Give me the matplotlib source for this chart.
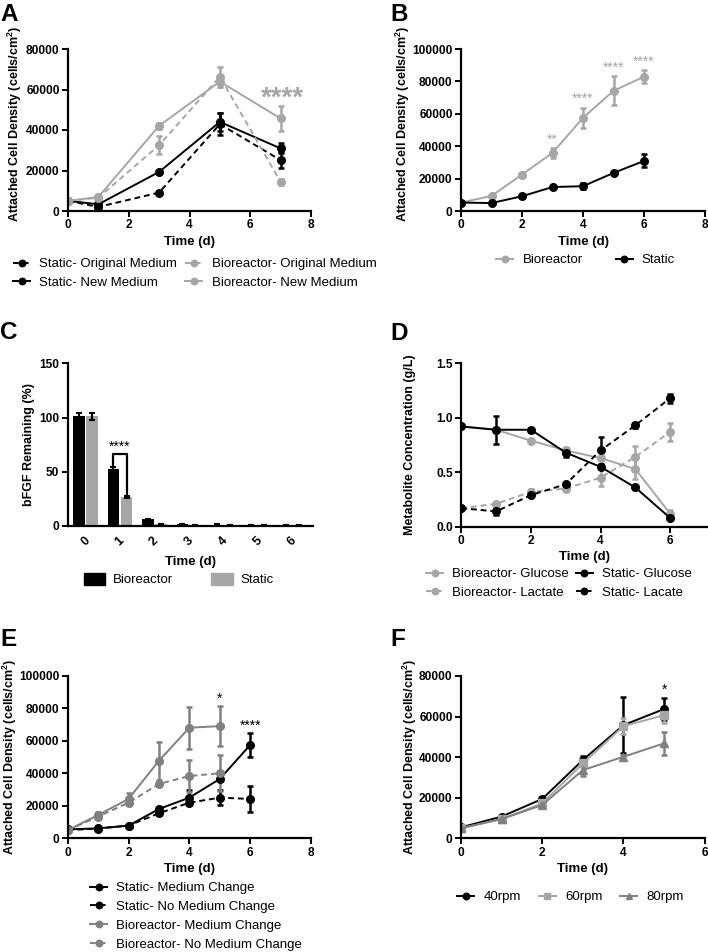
import matplotlib.pyplot as plt
import numpy as np
from matplotlib.patches import Patch

plt.rcParams['font.family'] = ['Liberation Sans', 'DejaVu Sans']
plt.rcParams['mathtext.fontset'] = 'custom'
plt.rcParams['mathtext.rm'] = 'Liberation Sans'
plt.rcParams['mathtext.bf'] = 'Liberation Sans:bold'

GRAY = '#a6a6a6'
DGRAY = '#808080'
YLAB = r'Attached Cell Density (cells/cm$^{\mathbf{2}}$)'

# ---- A: medium change, days 0,1,3,5,7
days_a = [0, 1, 3, 5, 7]
a_static_orig = [5000, 2000, 9100, 42900, 25100]
a_static_orig_err = [400, 400, 600, 5500, 4000]
a_static_new = [5000, 3300, 19300, 44000, 30900]
a_static_new_err = [400, 400, 600, 4500, 2500]
a_bio_orig = [5000, 6600, 32500, 66300, 14400]
a_bio_orig_err = [400, 400, 4500, 5000, 1500]
a_bio_new = [5000, 6900, 42100, 63900, 45700]
a_bio_new_err = [400, 400, 1500, 2500, 6000]

# ---- B: bioreactor vs static
days_b = [0, 1, 2, 3, 4, 5, 6]
b_bio = [5200, 9300, 22500, 35900, 57500, 74200, 82900]
b_bio_err = [400, 600, 800, 3000, 6200, 9000, 4000]
b_static = [5200, 4900, 9100, 14800, 15300, 23500, 30900]
b_static_err = [400, 400, 600, 800, 2000, 800, 4000]
b_stars = ['', '', '', '**', '****', '****', '****']

# ---- C: bFGF remaining
days_c = ['0', '1', '2', '3', '4', '5', '6']
c_bio = [101, 53, 6.5, 1.6, 1.3, 1.1, 1.0]
c_bio_err = [3, 1.5, 0.3, 0.2, 0.2, 0.2, 0.2]
c_static = [101, 27, 2.0, 1.0, 0.8, 0.6, 0.6]
c_static_err = [3, 1.0, 0.2, 0.2, 0.2, 0.2, 0.2]

# ---- D: metabolites
days_d = [0, 1, 2, 3, 4, 5, 6]
d_bio_glu = [0.92, 0.89, 0.79, 0.70, 0.63, 0.53, 0.12]
d_bio_glu_err = [0.01, 0.02, 0.01, 0.02, 0.09, 0.09, 0.03]
d_bio_lac = [0.17, 0.21, 0.32, 0.35, 0.45, 0.64, 0.87]
d_bio_lac_err = [0.01, 0.01, 0.03, 0.01, 0.08, 0.10, 0.08]
d_st_glu = [0.92, 0.89, 0.89, 0.68, 0.55, 0.36, 0.08]
d_st_glu_err = [0.01, 0.13, 0.01, 0.04, 0.01, 0.01, 0.01]
d_st_lac = [0.17, 0.14, 0.29, 0.39, 0.70, 0.93, 1.18]
d_st_lac_err = [0.01, 0.03, 0.01, 0.01, 0.12, 0.02, 0.04]

# ---- E: medium change over 6 days
days_e = [0, 1, 2, 3, 4, 5, 6]
e_st_mc = [5500, 6100, 7800, 18000, 25000, 36500, 57400]
e_st_mc_err = [400, 400, 500, 800, 4600, 800, 7400]
e_st_nmc = [5000, 6000, 7800, 15400, 21900, 25000, 24200]
e_st_nmc_err = [400, 400, 500, 800, 800, 4600, 7800]
days_e_bio = [0, 1, 2, 3, 4, 5]
e_bio_mc = [5000, 14300, 24200, 47700, 68000, 69000]
e_bio_mc_err = [400, 2000, 3500, 11600, 13000, 12300]
e_bio_nmc = [5000, 13300, 21900, 33400, 38300, 40000]
e_bio_nmc_err = [400, 1500, 1500, 1500, 9800, 11000]

# ---- F: agitation rate
days_f = [0, 1, 2, 3, 4, 5]
f_40 = [5400, 10700, 19400, 38600, 55800, 63700]
f_40_err = [400, 600, 800, 2000, 13800, 5500]
f_60 = [5000, 9500, 17200, 36900, 55300, 60700]
f_60_err = [400, 600, 800, 2000, 4000, 4000]
f_80 = [5000, 9500, 16400, 33600, 40200, 46800]
f_80_err = [400, 600, 800, 3000, 1000, 5500]

W, H = 708, 952
fig = plt.figure(figsize=(W / 100, H / 100), dpi=100)


def px_axes(left, top, right, bottom):
    return fig.add_axes([left / W, 1 - bottom / H, (right - left) / W, (bottom - top) / H])


def style(ax, xlim, xticks, ylim, yticks, ylabel, label_x, label_y=None, fmt_int=True):
    for s in ['top', 'right']:
        ax.spines[s].set_visible(False)
    for s in ['left', 'bottom']:
        ax.spines[s].set_linewidth(1.6)
    ax.set_xlim(xlim)
    ax.set_ylim(ylim)
    ax.set_xticks(xticks)
    ax.set_yticks(yticks)
    if fmt_int:
        ax.set_yticklabels([str(int(v)) for v in yticks])
    ax.tick_params(width=1.4, length=4, labelsize=8.6, pad=2)
    for lab in ax.get_xticklabels() + ax.get_yticklabels():
        lab.set_fontweight('bold')
    ax.set_xlabel('Time (d)', fontsize=9.5, fontweight='bold', labelpad=3)
    ax.set_ylabel(ylabel, fontsize=9, fontweight='bold')
    pos = ax.get_position()
    yc = (pos.y0 + pos.y1) / 2 if label_y is None else 1 - label_y / H
    ax.yaxis.set_label_coords(label_x / W, yc, transform=fig.transFigure)
    ax.yaxis.label.set_verticalalignment('center')


def series(ax, x, y, err, color, ls='-', marker='o', label=None, ms=5.5):
    eb = ax.errorbar(x, y, yerr=err, color=color, ls=ls, marker=marker, ms=ms,
                     lw=1.4, elinewidth=1.8, capsize=2.5, capthick=1.8,
                     dashes=(3, 2) if ls == '--' else (None, None))
    line = eb.lines[0]
    line.set_label(label)
    return line


def legend(ax, handles, x, y, ncol=1, **kw):
    opts = dict(loc='upper left', bbox_to_anchor=(x / W, 1 - y / H), bbox_transform=fig.transFigure,
                frameon=False, fontsize=9.5, handlelength=1.3, handletextpad=0.7,
                columnspacing=0.6, labelspacing=0.5, borderpad=0, borderaxespad=0, ncol=ncol,
                markerscale=0.85)
    opts.update(kw)
    ax.legend(handles=handles, **opts)


def letter(ch, x, y):
    fig.text(x / W, 1 - y / H, ch, fontsize=17.5, fontweight='bold', ha='left', va='top')


# ---------------- A
ax = px_axes(68, 49, 311, 211)
h1 = series(ax, days_a, a_static_orig, a_static_orig_err, 'black', '--', label='Static- Original Medium')
h2 = series(ax, days_a, a_static_new, a_static_new_err, 'black', '-', label='Static- New Medium')
h3 = series(ax, days_a, a_bio_orig, a_bio_orig_err, GRAY, '--', label='Bioreactor- Original Medium')
h4 = series(ax, days_a, a_bio_new, a_bio_new_err, GRAY, '-', label='Bioreactor- New Medium')
ax.text(days_a[-1] + 0.05, a_bio_new[-1] + a_bio_new_err[-1] + 500, '****', color=GRAY, fontsize=20,
        fontweight='bold', ha='center', va='baseline')
style(ax, (0, 8), [0, 2, 4, 6, 8], (0, 80000), [0, 20000, 40000, 60000, 80000], YLAB, 15, 124)
legend(ax, [h1, h2, h3, h4], 13, 258, ncol=2)
letter('A', 0, 3)

# ---------------- B
ax = px_axes(461, 49, 705, 211)
h1 = series(ax, days_b, b_bio, b_bio_err, GRAY, '-', label='Bioreactor')
h2 = series(ax, days_b, b_static, b_static_err, 'black', '-', label='Static')
for x, y, e, s in zip(days_b, b_bio, b_bio_err, b_stars):
    if s:
        ax.text(x, y + e + 1000, s, color=GRAY, fontsize=10, ha='center', va='bottom')
style(ax, (0, 8), [0, 2, 4, 6, 8], (0, 100000), [0, 20000, 40000, 60000, 80000, 100000], YLAB, 403, 124)
legend(ax, [h1, h2], 496, 254, ncol=2, columnspacing=2.5)
letter('B', 390, 3)

# ---------------- C
ax = px_axes(67.7, 363.3, 312.7, 526)
xc = np.arange(len(days_c))
bw = 0.33
ax.bar(xc - 0.19, c_bio, bw, yerr=c_bio_err, color='black', error_kw=dict(elinewidth=1.5, capsize=2, capthick=1.5))
ax.bar(xc + 0.19, c_static, bw, yerr=c_static_err, color=GRAY, ecolor='black',
       error_kw=dict(elinewidth=1.5, capsize=2, capthick=1.5))
# significance bracket on day 1
bl = c_bio[1] + c_bio_err[1] + 1.5
br = c_static[1] + c_static_err[1] + 1.5
top = bl + 10
ax.plot([xc[1] - 0.19, xc[1] - 0.19, xc[1] + 0.19, xc[1] + 0.19], [bl, top, top, br], color='black', lw=1.6)
ax.text(xc[1], top + 0.5, '****', fontsize=10, ha='center', va='bottom')
style(ax, (-0.52, 6.6), xc, (0, 150), [0, 50, 100, 150], 'bFGF Remaining (%)', 29)
ax.set_xticklabels(days_c, rotation=45, fontweight='bold', fontsize=9)
ax.tick_params(axis='x', length=0, pad=6)
ax.xaxis.labelpad = 6
hc = [Patch(color='black', label='Bioreactor'), Patch(color=GRAY, label='Static')]
legend(ax, hc, 84, 573, ncol=2, handlelength=1.6, handleheight=1.0, handletextpad=0.6, columnspacing=2.9)
letter('C', 0, 321)

# ---------------- D
ax = px_axes(461.3, 363.3, 707, 526.7)
h1 = series(ax, days_d, d_bio_glu, d_bio_glu_err, GRAY, '-', label='Bioreactor- Glucose')
h2 = series(ax, days_d, d_bio_lac, d_bio_lac_err, GRAY, '--', label='Bioreactor- Lactate')
h3 = series(ax, days_d, d_st_glu, d_st_glu_err, 'black', '-', label='Static- Glucose')
h4 = series(ax, days_d, d_st_lac, d_st_lac_err, 'black', '--', label='Static- Lacate')
style(ax, (0, 7.06), [0, 2, 4, 6], (0, 1.5), [0.0, 0.5, 1.0, 1.5], 'Metabolite Concentration (g/L)', 410,
      fmt_int=False)
ax.set_yticklabels(['0.0', '0.5', '1.0', '1.5'], fontweight='bold')
legend(ax, [h1, h2, h3, h4], 426, 568, ncol=2, columnspacing=0.5)
letter('D', 390, 322)

# ---------------- E
ax = px_axes(67.7, 675.7, 311, 838.3)
h1 = series(ax, days_e, e_st_mc, e_st_mc_err, 'black', '-', label='Static- Medium Change')
h2 = series(ax, days_e, e_st_nmc, e_st_nmc_err, 'black', '--', label='Static- No Medium Change')
h3 = series(ax, days_e_bio, e_bio_mc, e_bio_mc_err, DGRAY, '-', label='Bioreactor- Medium Change')
h4 = series(ax, days_e_bio, e_bio_nmc, e_bio_nmc_err, DGRAY, '--', label='Bioreactor- No Medium Change')
ax.text(days_e_bio[-1], e_bio_mc[-1] + e_bio_mc_err[-1] + 300, '*', fontsize=10, ha='center', va='bottom')
ax.text(days_e[-1], e_st_mc[-1] + e_st_mc_err[-1] + 300, '****', fontsize=10, ha='center', va='bottom')
style(ax, (0, 8), [0, 2, 4, 6, 8], (0, 100000), [0, 20000, 40000, 60000, 80000, 100000], YLAB, 10)
legend(ax, [h1, h2, h3, h4], 90, 882)
letter('E', 0, 628)

# ---------------- F
ax = px_axes(461, 676, 704.7, 838.3)
h1 = series(ax, days_f, f_40, f_40_err, 'black', '-', 'o', label='40rpm')
h2 = series(ax, days_f, f_60, f_60_err, GRAY, '-', 's', label='60rpm')
h3 = series(ax, days_f, f_80, f_80_err, DGRAY, '-', '^', label='80rpm')
ax.text(days_f[-1], f_40[-1] + f_40_err[-1] + 500, '*', fontsize=10, ha='center', va='bottom')
style(ax, (0, 6), [0, 2, 4, 6], (0, 80000), [0, 20000, 40000, 60000, 80000], YLAB, 410)
legend(ax, [h1, h2, h3], 457, 891, ncol=3, columnspacing=1.35)
letter('F', 390, 628)

fig.savefig('out.png', dpi=100)
